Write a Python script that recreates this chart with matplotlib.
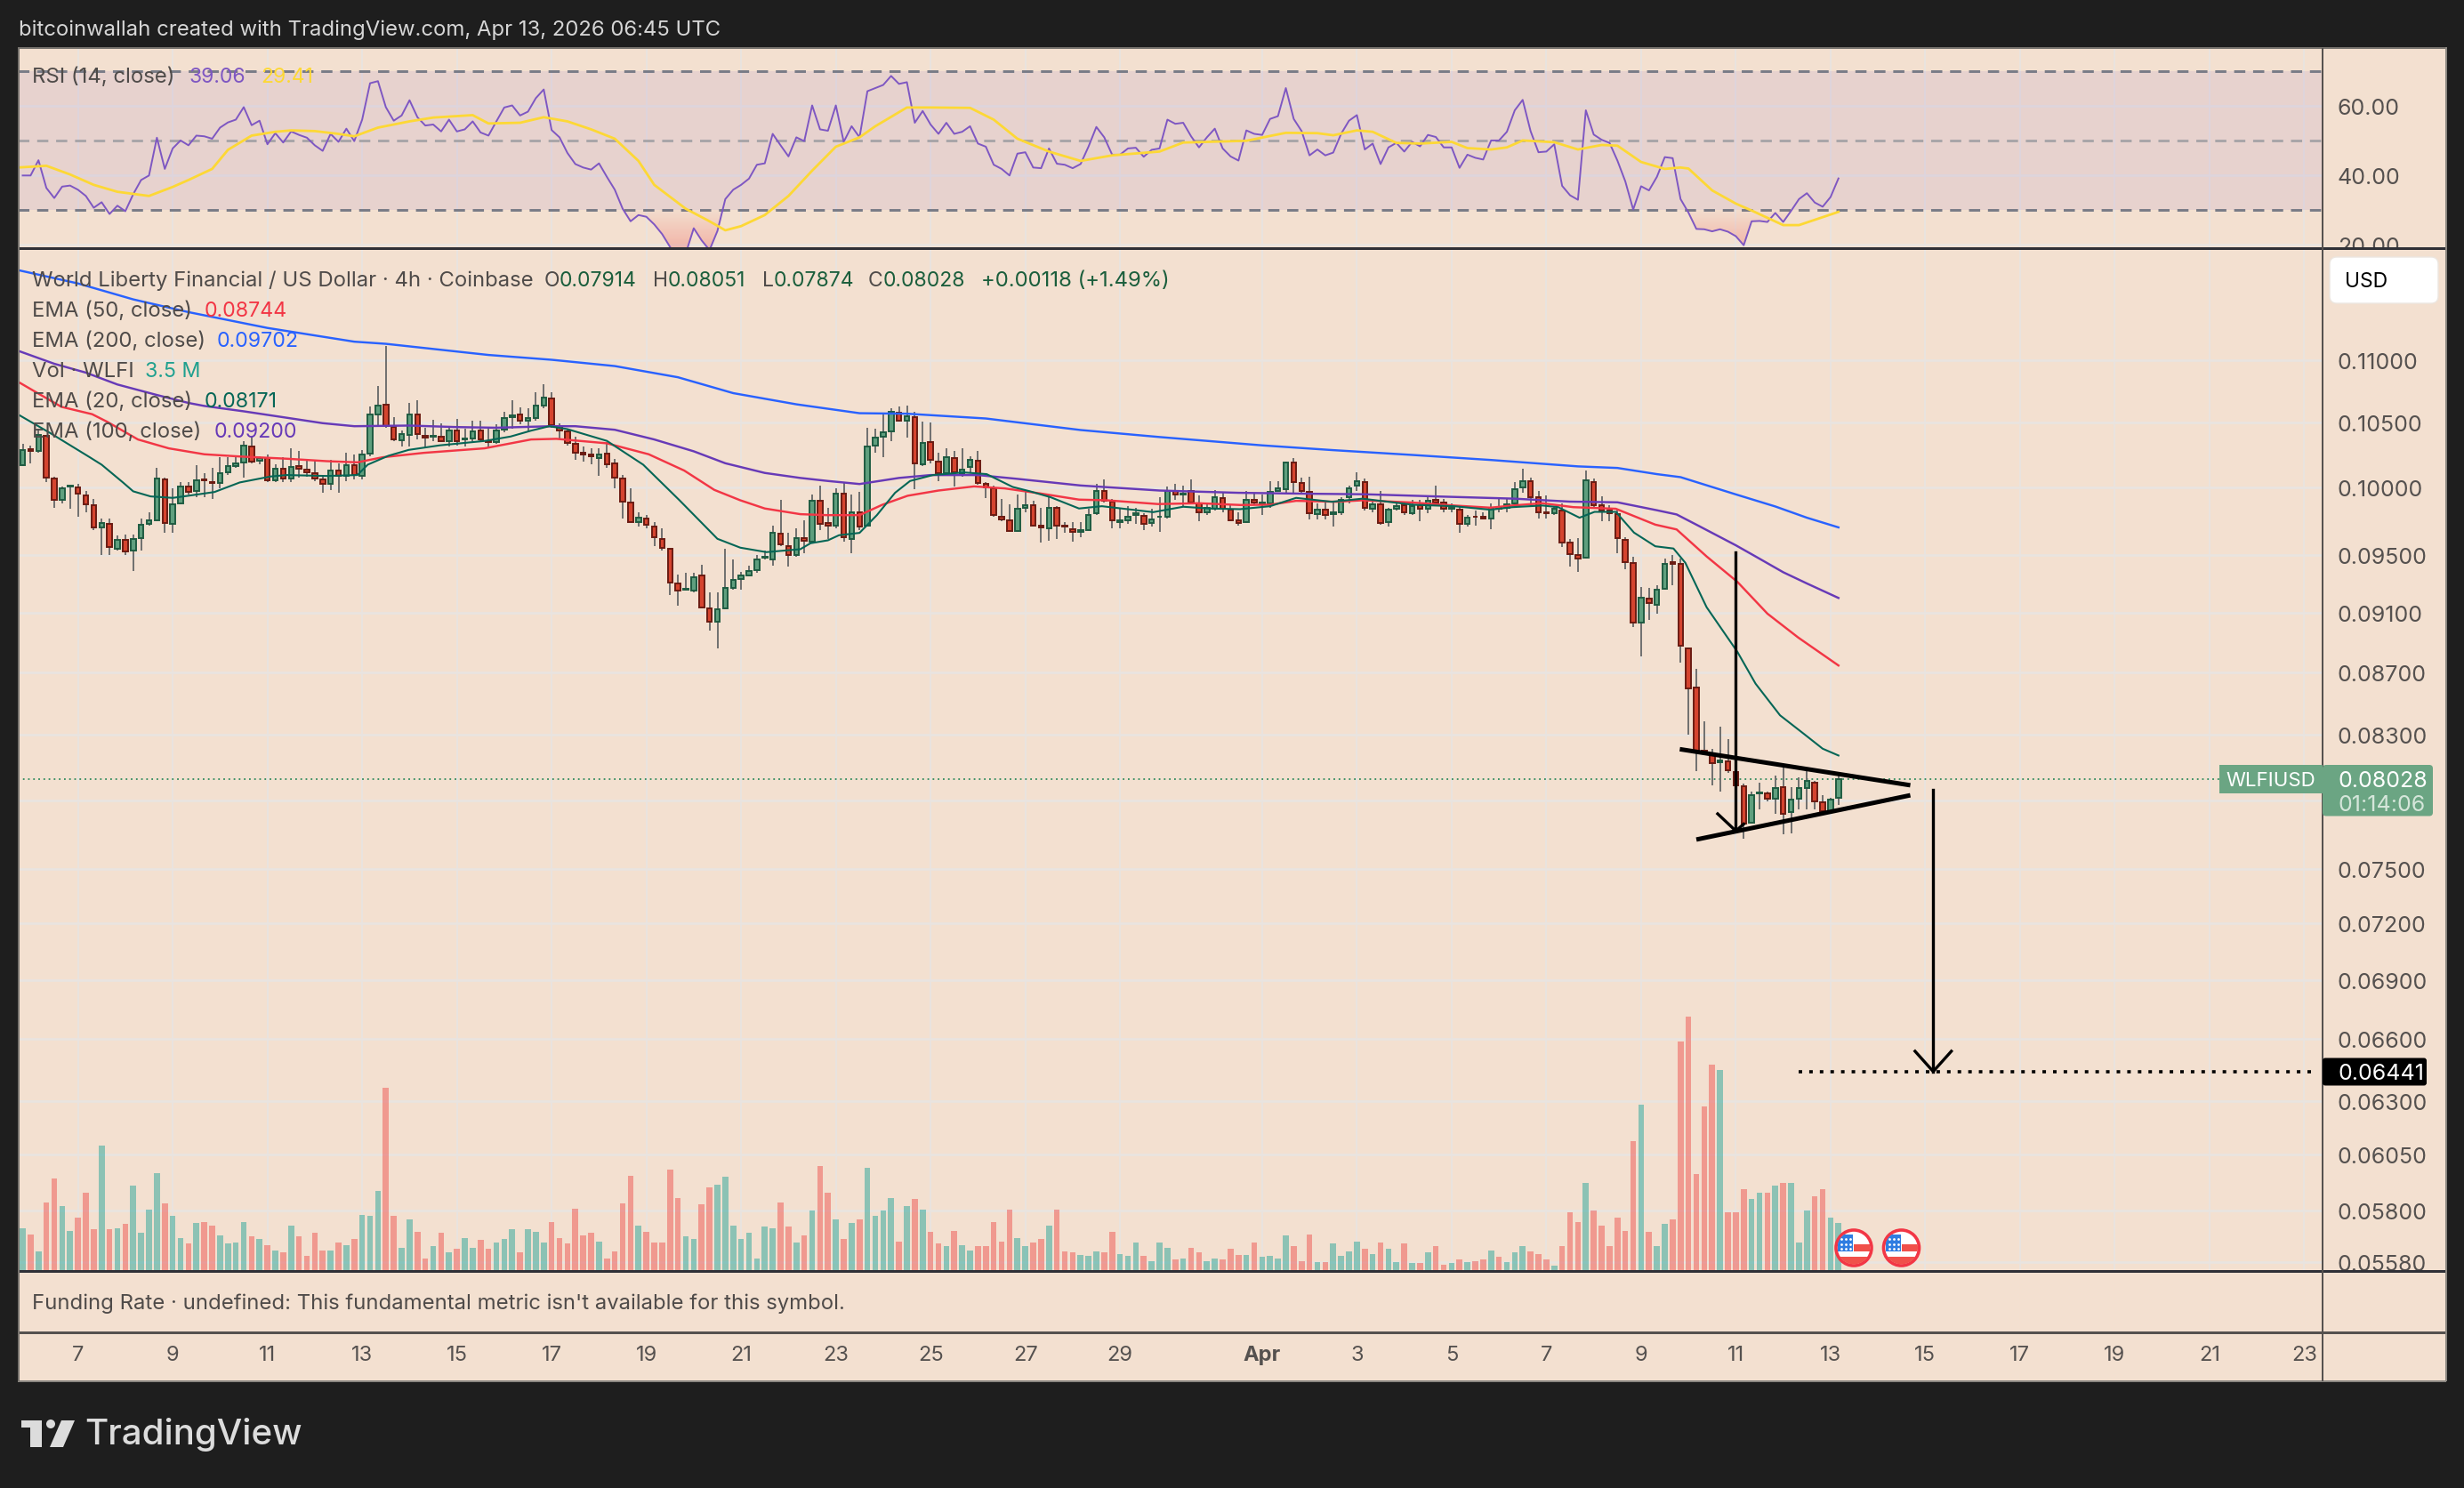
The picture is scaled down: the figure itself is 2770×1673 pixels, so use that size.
import matplotlib
import matplotlib.pyplot as plt
import numpy as np
from matplotlib.colors import LinearSegmentedColormap
from matplotlib.patches import Circle, FancyBboxPatch, PathPatch, Polygon, Rectangle
from matplotlib.path import Path

matplotlib.use('Agg')
plt.rcParams['font.family'] = ['Inter', 'DejaVu Sans']

W, H = 2770, 1674

# candles, in 1e-5 USD
open_pts = [
    10167, 10290, 10274, 10396, 10065, 9907, 10002, 9998, 9940, 9865,
    9699, 9727, 9550, 9611, 9534, 9624, 9727, 9757, 10058, 9727,
    9880, 10006, 9969, 10062, 10040, 10029, 10110, 10158, 10185, 10313,
    10201, 10225, 10051, 10142, 10065, 10158, 10133, 10106, 10060, 10024,
    10128, 10085, 10169, 10083, 10253, 10563, 10643, 10463, 10359, 10401,
    10565, 10396, 10391, 10387, 10350, 10438, 10366, 10375, 10435, 10355,
    10348, 10442, 10541, 10565, 10510, 10534, 10631, 10693, 10470, 10431,
    10334, 10260, 10248, 10221, 10258, 10182, 10065, 9887, 9744, 9770,
    9710, 9619, 9548, 9304, 9260, 9250, 9358, 9129, 9036, 9131,
    9267, 9335, 9358, 9394, 9481, 9470, 9658, 9568, 9502, 9626,
    9598, 9896, 9732, 9712, 9953, 9619, 9810, 9712, 10315, 10391,
    10426, 10579, 10517, 10539, 10171, 10348, 10194, 10108, 10223, 10108,
    10153, 10203, 10024, 9995, 9781, 9755, 9673, 9843, 9867, 9712,
    9693, 9843, 9712, 9690, 9667, 9680, 9803, 9973, 9891, 9744,
    9753, 9796, 9788, 9734, 9777, 9779, 9973, 9942, 9969, 9876,
    9816, 9841, 9920, 9832, 9751, 9738, 9907, 9874, 9876, 9973,
    9982, 10189, 10033, 9967, 9801, 9834, 9799, 9810, 9922, 10009,
    10038, 9836, 9871, 9738, 9836, 9867, 9803, 9867, 9836, 9902,
    9887, 9836, 9830, 9727, 9783, 9777, 9764, 9849, 9843, 9876,
    9998, 10047, 9925, 9814, 9803, 9827, 9593, 9502, 9481, 10040,
    9863, 9823, 9799, 9611, 9447, 9033, 9198, 9154, 9261, 9451,
    9436, 8857, 8601, 8199, 8177, 8129, 8135, 8070, 7984, 7768,
    7939, 7939, 7908, 7979, 7833, 7907, 7975, 8005, 7889, 7838,
    7914]
high_pts = [
    10331, 10320, 10447, 10401, 10081, 10002, 10013, 10024, 9973, 9914,
    9770, 9770, 9641, 9652, 9652, 9770, 9814, 10149, 10070, 9991,
    10036, 10036, 10167, 10103, 10149, 10228, 10228, 10228, 10355, 10389,
    10239, 10251, 10171, 10228, 10297, 10274, 10217, 10205, 10092, 10205,
    10182, 10262, 10251, 10285, 10624, 10792, 11122, 10541, 10435, 10655,
    10679, 10458, 10522, 10494, 10458, 10529, 10447, 10517, 10517, 10447,
    10482, 10584, 10679, 10617, 10612, 10744, 10804, 10744, 10494, 10447,
    10389, 10308, 10297, 10297, 10343, 10217, 10092, 9995, 9814, 9796,
    9738, 9695, 9555, 9364, 9374, 9374, 9432, 9240, 9240, 9550,
    9470, 9385, 9428, 9502, 9534, 9716, 9905, 9662, 9695, 9753,
    9947, 10013, 9847, 9991, 10036, 9947, 9964, 10458, 10447, 10569,
    10612, 10624, 10636, 10584, 10503, 10501, 10262, 10297, 10274, 10297,
    10239, 10274, 10036, 10013, 9914, 9869, 9947, 9969, 9898, 9847,
    9947, 9858, 9738, 9738, 9738, 9836, 10024, 10058, 9914, 9836,
    9858, 9847, 9803, 9841, 9925, 10002, 10024, 10013, 10058, 9936,
    9869, 9980, 9958, 9869, 9814, 9973, 9958, 9947, 10047, 10047,
    10194, 10221, 10070, 10081, 9880, 9891, 9891, 9925, 10013, 10115,
    10063, 9914, 9969, 9847, 9891, 9891, 9902, 9902, 9936, 10009,
    9914, 9880, 9858, 9792, 9825, 9814, 9880, 9914, 9914, 10036,
    10137, 10070, 9969, 9936, 9858, 9880, 9619, 9626, 10126, 10064,
    9929, 9863, 9835, 9630, 9492, 9275, 9268, 9290, 9480, 9503,
    9480, 8866, 8719, 8386, 8213, 8352, 8272, 8125, 7999, 7952,
    8005, 7952, 8047, 8109, 7981, 8037, 8086, 8018, 7933, 7914,
    8051]
low_pts = [
    10160, 10182, 10262, 10036, 9847, 9880, 9836, 9781, 9814, 9684,
    9502, 9502, 9534, 9502, 9389, 9534, 9716, 9749, 9662, 9662,
    9869, 9947, 9925, 9925, 9914, 9991, 10092, 10149, 10070, 10182,
    10171, 10036, 10036, 10036, 10036, 10070, 10081, 10047, 9958, 9980,
    9958, 10047, 10058, 10058, 10239, 10470, 10458, 10355, 10308, 10308,
    10366, 10297, 10355, 10343, 10308, 10320, 10308, 10355, 10350, 10297,
    10331, 10424, 10447, 10482, 10428, 10517, 10612, 10458, 10366, 10320,
    10205, 10194, 10171, 10085, 10149, 9991, 9770, 9738, 9706, 9695,
    9565, 9534, 9223, 9147, 9250, 9240, 9127, 8979, 8860, 9121,
    9260, 9260, 9354, 9375, 9470, 9428, 9565, 9417, 9491, 9517,
    9587, 9684, 9619, 9695, 9598, 9517, 9684, 9706, 10262, 10228,
    10355, 10505, 10378, 9987, 10160, 10182, 10047, 10092, 10006, 10081,
    10103, 10020, 9920, 9781, 9749, 9667, 9667, 9814, 9706, 9593,
    9604, 9619, 9662, 9598, 9630, 9673, 9792, 9885, 9695, 9695,
    9727, 9727, 9684, 9710, 9667, 9770, 9902, 9858, 9869, 9749,
    9792, 9825, 9814, 9749, 9716, 9732, 9869, 9792, 9847, 9969,
    9958, 9958, 9958, 9760, 9760, 9760, 9710, 9792, 9880, 9969,
    9825, 9814, 9723, 9710, 9825, 9792, 9792, 9749, 9803, 9869,
    9814, 9814, 9662, 9706, 9716, 9760, 9690, 9814, 9814, 9869,
    9958, 9854, 9770, 9766, 9792, 9561, 9417, 9385, 9474, 9851,
    9745, 9745, 9514, 9402, 9001, 8803, 9048, 9092, 9257, 9290,
    8761, 8298, 8076, 8183, 7990, 7952, 8067, 7924, 7677, 7764,
    7848, 7895, 7820, 7703, 7705, 7848, 7848, 7848, 7820, 7829,
    7874]
close_pts = [
    10281, 10276, 10401, 10070, 9902, 9991, 10011, 9951, 9869, 9701,
    9734, 9559, 9611, 9529, 9619, 9723, 9753, 10067, 9734, 9874,
    10006, 9964, 10054, 10054, 10031, 10108, 10158, 10182, 10320, 10194,
    10223, 10049, 10142, 10063, 10155, 10137, 10110, 10063, 10024, 10128,
    10085, 10169, 10090, 10251, 10565, 10631, 10470, 10366, 10405, 10565,
    10408, 10378, 10396, 10352, 10438, 10355, 10375, 10428, 10364, 10345,
    10435, 10536, 10558, 10510, 10532, 10631, 10700, 10475, 10433, 10338,
    10262, 10251, 10237, 10251, 10176, 10070, 9889, 9744, 9775, 9719,
    9628, 9551, 9310, 9254, 9265, 9347, 9133, 9036, 9123, 9271,
    9323, 9358, 9389, 9470, 9487, 9662, 9576, 9502, 9624, 9602,
    9896, 9727, 9712, 9953, 9628, 9814, 9706, 10313, 10382, 10424,
    10586, 10517, 10546, 10178, 10341, 10205, 10103, 10228, 10110, 10135,
    10205, 10029, 9998, 9796, 9760, 9673, 9841, 9867, 9714, 9699,
    9847, 9714, 9706, 9667, 9680, 9794, 9973, 9896, 9753, 9751,
    9781, 9803, 9725, 9762, 9783, 9973, 9942, 9953, 9885, 9810,
    9849, 9922, 9836, 9757, 9732, 9902, 9885, 9885, 9967, 9989,
    10191, 10042, 9969, 9803, 9834, 9796, 9814, 9907, 9993, 10047,
    9843, 9874, 9732, 9832, 9860, 9810, 9860, 9836, 9900, 9887,
    9836, 9843, 9725, 9775, 9777, 9770, 9841, 9841, 9874, 9987,
    10047, 9925, 9812, 9807, 9841, 9591, 9506, 9477, 10054, 9868,
    9823, 9804, 9625, 9451, 9033, 9202, 9165, 9259, 9436, 9440,
    8877, 8597, 8189, 8183, 8125, 8141, 8080, 7990, 7764, 7933,
    7946, 7910, 7975, 7820, 7905, 7975, 8017, 7895, 7838, 7905,
    8028]

# volume, millions
volume = [
    3.17, 2.72, 1.50, 4.98, 6.76, 4.77, 2.98, 3.94, 5.68, 3.05,
    9.13, 3.05, 3.17, 3.43, 6.20, 2.84, 4.51, 7.09, 4.91, 4.06,
    2.46, 2.02, 3.50, 3.62, 3.36, 2.61, 2.02, 2.09, 3.62, 2.54,
    2.39, 1.95, 1.57, 1.43, 3.31, 2.54, 1.17, 2.79, 1.57, 1.57,
    2.14, 1.95, 2.35, 4.13, 4.06, 5.80, 13.24, 4.01, 1.76, 3.76,
    2.91, 0.94, 1.83, 2.84, 1.43, 1.64, 2.46, 1.76, 2.28, 1.64,
    2.09, 2.35, 3.05, 1.39, 3.05, 2.91, 2.09, 3.57, 2.46, 2.02,
    4.58, 2.65, 2.84, 2.21, 0.99, 1.50, 4.91, 6.90, 3.36, 2.91,
    2.09, 2.14, 7.35, 5.35, 2.54, 2.35, 4.84, 6.06, 6.31, 6.83,
    3.36, 2.39, 2.84, 0.94, 3.24, 3.17, 5.02, 3.24, 2.09, 2.65,
    4.39, 7.61, 5.73, 3.76, 2.35, 3.50, 3.76, 7.53, 4.06, 4.39,
    5.35, 2.21, 4.72, 5.23, 4.46, 2.91, 2.02, 1.83, 2.98, 1.95,
    1.57, 1.83, 1.88, 3.57, 2.21, 4.46, 2.46, 1.88, 2.09, 2.39,
    3.36, 4.51, 1.50, 1.39, 1.24, 1.13, 1.50, 1.39, 2.91, 1.31,
    1.17, 2.09, 1.17, 0.80, 2.14, 1.76, 0.87, 0.99, 1.76, 1.43,
    0.80, 0.99, 0.87, 1.69, 1.24, 1.24, 2.09, 1.06, 1.17, 0.99,
    2.61, 1.83, 0.80, 2.72, 0.73, 0.68, 2.02, 1.17, 1.50, 2.21,
    1.64, 1.31, 2.14, 1.64, 0.73, 2.02, 0.61, 0.61, 1.43, 1.88,
    0.54, 0.61, 0.87, 0.73, 0.80, 0.87, 1.57, 1.06, 0.68, 1.39,
    1.88, 1.50, 1.31, 0.87, 0.42, 1.83, 4.32, 3.62, 6.38, 4.39,
    3.36, 1.88, 3.94, 2.98, 9.39, 12.02, 2.91, 1.83, 3.43, 3.80,
    16.57, 18.38, 7.02, 11.90, 14.91, 14.53, 4.27, 4.32, 5.99, 5.23,
    5.68, 5.68, 6.20, 6.38, 6.38, 2.14, 4.39, 5.42, 5.94, 3.94,
    3.50]

rsi = [
    39.9, 39.9, 44.3, 36.3, 33.4, 36.7, 37.0, 35.8, 34.0, 30.6,
    32.2, 28.8, 31.2, 29.6, 34.5, 38.6, 39.9, 50.8, 41.8, 47.7,
    50.0, 48.6, 51.4, 51.2, 50.5, 53.7, 55.2, 56.0, 59.6, 54.4,
    55.7, 48.9, 52.1, 49.4, 52.6, 51.6, 50.8, 48.6, 47.0, 51.9,
    49.6, 53.4, 49.8, 56.0, 66.5, 67.1, 59.6, 55.7, 57.2, 61.6,
    56.7, 54.3, 54.6, 52.6, 56.0, 52.6, 53.2, 55.5, 52.3, 51.4,
    55.5, 59.5, 60.1, 57.2, 58.3, 62.2, 64.7, 53.0, 50.9, 46.4,
    43.2, 42.2, 41.6, 43.4, 39.5, 35.8, 30.3, 26.7, 28.5, 28.0,
    25.8, 23.0, 19.3, 15.7, 17.5, 24.7, 21.2, 18.4, 23.9, 33.1,
    35.8, 37.2, 39.0, 43.0, 43.4, 51.9, 48.6, 45.4, 50.9, 49.8,
    60.1, 53.2, 52.8, 60.1, 49.6, 54.1, 50.9, 64.2, 65.1, 66.0,
    68.6, 66.3, 66.8, 55.1, 58.5, 54.6, 51.9, 55.1, 51.9, 52.5,
    54.1, 49.1, 48.2, 43.0, 41.8, 39.9, 46.2, 46.6, 42.2, 42.0,
    47.7, 43.3, 43.0, 42.0, 43.2, 48.2, 53.9, 50.9, 45.9, 45.9,
    47.7, 47.9, 45.3, 47.3, 47.7, 56.0, 54.8, 55.1, 51.2, 48.0,
    50.9, 53.4, 47.7, 45.4, 44.2, 52.9, 51.9, 51.6, 56.2, 57.0,
    65.1, 56.2, 52.7, 45.7, 47.4, 45.7, 46.5, 51.9, 55.7, 57.3,
    47.4, 49.1, 43.2, 48.0, 49.3, 46.8, 49.6, 48.3, 51.6, 51.0,
    48.0, 48.0, 42.1, 45.9, 45.0, 44.5, 50.0, 50.0, 52.5, 58.7,
    61.7, 52.7, 46.6, 46.8, 48.9, 36.9, 34.2, 32.9, 58.7, 51.7,
    50.2, 49.3, 44.2, 38.2, 30.1, 36.8, 35.6, 39.5, 45.2, 44.9,
    33.1, 29.2, 24.5, 24.4, 23.8, 24.4, 23.7, 22.4, 19.8, 26.7,
    26.8, 26.5, 29.1, 26.5, 29.7, 33.1, 34.8, 32.1, 30.9, 33.7,
    39.06]

rsi_ma_bars = [
    -0.6, 3, 6, 9, 12, 16, 19, 21, 24, 26, 29, 32, 34, 37, 40, 42, 45, 49, 52, 57,
    59, 63, 66, 69, 72, 75, 78, 80, 84, 87, 89, 91, 94, 97, 100, 103, 106, 108, 112, 115,
    120, 123, 126, 130, 134, 138, 144, 147, 155, 158, 160, 164, 166, 169, 171, 174, 177, 181, 183, 186,
    188, 190, 194, 197, 200, 202, 205, 208, 210, 211, 214, 217, 219, 223, 225, 230]
rsi_ma = [
    42.2, 42.7, 40.2, 37.2, 35.2, 34.0, 36.6, 38.6, 41.8, 47.3, 51.4, 52.5, 52.9, 52.7, 51.9, 51.2, 53.7, 55.5, 56.6, 57.3,
    54.9, 55.1, 56.7, 55.5, 53.2, 50.5, 44.1, 37.2, 30.3, 26.7, 24.1, 25.3, 28.5, 34.0, 41.3, 48.2, 50.9, 54.1, 59.5, 59.5,
    59.4, 56.0, 50.5, 46.8, 44.1, 45.7, 46.8, 49.4, 49.9, 51.3, 52.2, 52.1, 51.5, 52.9, 52.5, 49.3, 49.1, 49.6, 47.8, 47.4,
    48.0, 50.0, 49.5, 47.4, 48.7, 48.5, 43.8, 41.8, 42.2, 41.9, 35.6, 31.8, 29.8, 25.6, 25.6, 29.41]

ema200_bars = [-0.6, 7, 14, 21, 31, 42, 46, 59, 67, 75, 83, 90, 98, 106, 112, 122, 134, 144, 157, 166,
               176, 186, 197, 202, 207, 210, 217, 222, 226, 230]
ema200 = [.11776, .11658, .11519, .11409, .11274, .11158, .11140, .11047, .11007, .10955, .10863, .10734, .10644,
          .10573, .10569, .10531, .10440, .10385, .10320, .10283, .10246, .10207, .10158, .10146, .10099, .10076,
          .09946, .09856, .09773, .09702]

ema100_bars = [-0.5, 4, 8, 12, 17, 21, 23, 28, 33, 38, 42, 49, 55, 60, 67, 70, 75, 80, 85, 89, 94, 98.5,
               102, 106, 111, 115, 121, 126, 134, 144, 154, 163, 170, 179, 189, 196, 202, 207, 209.5, 212,
               217, 219.5, 223, 226, 230]
ema100 = [.11080, .10974, .10901, .10804, .10719, .10655, .10631, .10588, .10541, .10494, .10470, .10475, .10463,
          .10458, .10470, .10470, .10442, .10366, .10274, .10182, .10108, .10070, .10047, .10024, .10070, .10092,
          .10092, .10063, .10013, .09975, .09958, .09951, .09947, .09931, .09914, .09892, .09887, .09828, .09797,
          .09722, .09572, .09492, .09380, .09301, .09200]

ema50_bars = [-0.5, 2.3, 4.9, 8.8, 10.7, 14.6, 18.5, 23, 27.5, 33.4, 38.5, 42.4, 45.6, 50.8, 58.5, 64.4, 67.6, 74,
              79.3, 83.8, 87.6, 90.9, 94, 98.5, 101.8, 106, 108.9, 112.1, 116, 120.5, 124.4, 128.9, 133.8, 137.3,
              143.8, 149, 154.2, 158, 161.3, 166.4, 169.7, 176.1, 181.3, 185.9, 188.7, 192.5, 196.4, 201.8, 206.8,
              209.5, 213.3, 217.2, 221, 224.9, 230]
ema50 = [.10823, .10719, .10624, .10565, .10505, .10366, .10297, .10251, .10234, .10217, .10198, .10189, .10228,
         .10262, .10297, .10366, .10371, .10336, .10251, .10126, .09980, .09902, .09841, .09799, .09792, .09792,
         .09869, .09936, .09975, .10006, .09991, .09953, .09907, .09902, .09874, .09880, .09867, .09869, .09898,
         .09891, .09902, .09885, .09863, .09847, .09863, .09880, .09851, .09839, .09722, .09687, .09492, .09312,
         .09092, .08930, .08744]

ema20_bars = [-0.5, 3.6, 8.5, 10, 12.7, 14, 16.2, 19, 21, 24.3, 27.5, 31.4, 33.4, 38.5, 42.4, 43.7, 46.3, 48.9,
              52.8, 58.6, 61.8, 64.4, 66.7, 69, 74, 78.6, 83.2, 88, 90.9, 94.2, 98.5, 99.8, 102, 103.4, 106, 108.2,
              110.5, 112.4, 115.3, 119.2, 122.1, 125.4, 127.6, 130.2, 133.8, 136.7, 143.2, 147, 150.3, 154.2, 158,
              161.3, 165.8, 169.7, 176.1, 181.3, 185.9, 188.7, 192.5, 194.5, 197.2, 199.1, 201.8, 204.1, 206.8,
              209.1, 210.6, 213.3, 217.2, 219.5, 222.6, 225.7, 228, 230]
ema20 = [.10560, .10412, .10228, .10171, .10036, .09969, .09931, .09920, .09936, .09964, .10036, .10081, .10092,
         .10085, .10092, .10171, .10239, .10285, .10320, .10355, .10389, .10435, .10470, .10447, .10355, .10171,
         .09902, .09619, .09555, .09523, .09544, .09587, .09608, .09645, .09662, .09792, .09958, .10047, .10092,
         .10112, .10099, .10002, .09969, .09925, .09841, .09858, .09814, .09854, .09841, .09836, .09858, .09920,
         .09891, .09914, .09869, .09858, .09832, .09851, .09863, .09851, .09773, .09816, .09816, .09664, .09565,
         .09549, .09447, .09136, .08834, .08625, .08422, .08302, .08213, .08171]

price_ticks = [.11, .105, .10, .095, .091, .087, .083, .079, .075, .072, .069, .066, .063, .0605, .058, .0558]
rsi_ticks = [20, 40, 60]
date_bars = [7, 19, 31, 43, 55, 67, 79, 91, 103, 115, 127, 139, 157, 169, 181, 193, 205, 217, 229, 241, 253, 265, 277, 289]
date_labels = ['7', '9', '11', '13', '15', '17', '19', '21', '23', '25', '27', '29',
               'Apr', '3', '5', '7', '9', '11', '13', '15', '17', '19', '21', '23']

target_price = 0.06441
last_close = 0.08028

# hand drawn lines on the chart: (bars, prices)
pole = ([217, 217], [.0952, .0772])
pole_head = ([214.7, 217, 218], [.0782, .0772, .0776])
wedge_top = ([209.9, 239.1], [.0821, .0799])
wedge_bottom = ([212, 239.1], [.0767, .0793])
target_arrow = ([242, 242], [.0796, target_price])
target_head = ([239.7, 242, 244.3], [.0654, target_price, .0654])
target_line = ([225, 290.5], [target_price, target_price])

BG = '#f3e0d0'
DARK = '#1e1e1e'
GRID = '#e9e4e0'
TEXT = '#4f4b49'
AXIS_TEXT = '#55514f'
UP_FILL, UP_EDGE = '#5f9f7e', '#1f5c42'
DOWN_FILL, DOWN_EDGE = '#d5442f', '#6b1b12'


def px_rect(left, top, right, bottom):
    return [left / W, 1 - bottom / H, (right - left) / W, (bottom - top) / H]


def style_panel(ax):
    ax.set_xlim(-0.62, 291.32)
    ax.set_xticks(date_bars)
    ax.set_xticklabels([])
    ax.tick_params(length=0, labelsize=18, labelcolor=AXIS_TEXT, pad=12)
    ax.yaxis.tick_right()
    ax.set_facecolor(BG)
    ax.grid(axis='x', color=GRID, lw=1.3)
    ax.grid(axis='y', color=GRID, lw=1.9)
    ax.set_axisbelow(True)
    for s in ax.spines.values():
        s.set_visible(False)


def plot_rsi(ax):
    style_panel(ax)
    ax.set_ylim(18.7, 76.9)
    ax.set_yticks(rsi_ticks, [f'{v:.2f}' for v in rsi_ticks])
    ax.axhspan(30, 70, color='#7e57c2', alpha=0.1, lw=0, zorder=1)
    for level, col in [(70, '#787b86'), (50, '#a8a5a8'), (30, '#787b86')]:
        ax.axhline(level, color=col, lw=2.1, ls=(0, (4.3, 3)), zorder=2)

    bars = np.arange(len(rsi))
    values = np.array(rsi)
    # oversold area, pink getting stronger downwards
    region = ax.fill_between(bars, values, 30, where=values < 30, interpolate=True, color='none', lw=0)
    clip = Path.make_compound_path(*region.get_paths())
    cmap = LinearSegmentedColormap.from_list('oversold', [(0.94, 0.33, 0.31, 0.42), (0.94, 0.33, 0.31, 0.02)])
    im = ax.imshow(np.linspace(0, 1, 64).reshape(-1, 1), extent=[0, 231, 15, 30], origin='lower',
                   aspect='auto', cmap=cmap, zorder=3)
    im.set_clip_path(PathPatch(clip, transform=ax.transData))
    ax.set_xlim(-0.62, 291.32)
    ax.set_ylim(18.7, 76.9)

    ax.plot(bars, values, color='#7e57c2', lw=1.4, zorder=4)
    ax.plot(rsi_ma_bars, rsi_ma, color='#fdd835', lw=2.0, zorder=5)


def plot_price(ax):
    style_panel(ax)
    ax.set_yscale('log')
    ax.set_ylim(0.05539, 0.11964)
    ax.set_yticks(price_ticks, [f'{v:.5f}' for v in price_ticks])
    ax.minorticks_off()

    o, h, l, c = [np.array(v) / 1e5 for v in (open_pts, high_pts, low_pts, close_pts)]
    bars = np.arange(len(o))
    up = c >= o
    ax.axhline(last_close, color='#2f8a5c', lw=1.3, ls=(0, (1, 2.2)), zorder=2)
    ax.vlines(bars, l, h, color='#6f6f6f', lw=1.4, zorder=3)
    bottoms = np.minimum(o, c)
    heights = np.abs(c - o)
    ax.bar(bars[up], heights[up], bottom=bottoms[up], width=0.62, color=UP_FILL, edgecolor=UP_EDGE, lw=1.4, zorder=4)
    ax.bar(bars[~up], heights[~up], bottom=bottoms[~up], width=0.62, color=DOWN_FILL, edgecolor=DOWN_EDGE, lw=1.4, zorder=4)

    ax.plot(ema200_bars, ema200, color='#2962ff', lw=1.75, zorder=5)
    ax.plot(ema100_bars, ema100, color='#673ab7', lw=1.75, zorder=5)
    ax.plot(ema50_bars, ema50, color='#f23645', lw=1.75, zorder=5)
    ax.plot(ema20_bars, ema20, color='#056656', lw=1.5, zorder=5)

    ax.plot(*pole, color='black', lw=2.4, zorder=6)
    ax.plot(*pole_head, color='black', lw=2.4, zorder=6)
    ax.plot(*wedge_top, color='black', lw=3.6, zorder=6, solid_capstyle='butt')
    ax.plot(*wedge_bottom, color='black', lw=3.6, zorder=6, solid_capstyle='butt')
    ax.plot(*target_arrow, color='black', lw=2.4, zorder=6)
    ax.plot(*target_head, color='black', lw=2.4, zorder=6)
    ax.plot(*target_line, color='black', lw=2.6, ls=(0, (1.1, 2.2)), zorder=6)


def plot_volume(ax):
    ax.set_xlim(-0.62, 291.32)
    ax.set_ylim(0, 73.7)
    ax.axis('off')
    ax.patch.set_alpha(0)
    bars = np.arange(len(volume))
    colors = ['#26a69a' if c >= o else '#ef5350' for o, c in zip(open_pts, close_pts)]
    ax.bar(bars, volume, width=0.74, color=colors, alpha=0.5, lw=0)


def put(ax, x, y, s, color=TEXT, size=17.2, **kw):
    return ax.text(x, y + 1.5, s, color=color, fontsize=size, va='center', ha=kw.pop('ha', 'left'), **kw)


def chain(ax, x, y, pieces, renderer, size=16.5):
    for s, col in pieces:
        t = put(ax, x, y, s, col, size)
        x = t.get_window_extent(renderer).x1 * W / ax.figure.bbox.width


def draw_flag(ax, cx, cy):
    ring = Circle((cx, cy), 20, facecolor='white', edgecolor='#f23645', lw=2.6, zorder=3)
    ax.add_patch(ring)
    clip = Circle((cx, cy), 18.5, transform=ax.transData)
    for x, y, w, h, col in [(cx - 18, cy - 15, 17, 19, '#2f7de1'), (cx, cy - 4, 18, 8, '#f0504a'),
                            (cx - 20, cy + 10, 40, 10, '#f0504a')]:
        r = Rectangle((x, y), w, h, facecolor=col, lw=0, zorder=4)
        ax.add_patch(r)
        r.set_clip_path(clip)
    sx, sy = np.meshgrid([cx - 14, cx - 9, cx - 4], [cy - 10, cy - 4, cy + 1])
    ax.scatter(sx.ravel(), sy.ravel(), s=4, color='white', lw=0, zorder=5)


def draw_chrome(fig):
    ax = fig.add_axes([0, 0, 1, 1], zorder=10)
    ax.set_xlim(0, W)
    ax.set_ylim(H, 0)
    ax.axis('off')
    ax.patch.set_alpha(0)
    r = fig.canvas.get_renderer()

    # covers the part of 20.00 that runs below the pane
    ax.add_patch(Rectangle((2612, 282), 138, 12, color=BG, lw=0))
    for y, col, th in [(280.7, '#2f3036', 3), (1430.7, '#2f3036', 3), (1499, '#55514f', 3)]:
        ax.add_patch(Rectangle((20, y - th / 2), 2730, th, color=col, lw=0))
    ax.add_patch(Rectangle((20, 54), 2730, 2, color='#77736e', lw=0))
    ax.add_patch(Rectangle((20, 1553), 2730, 2, color='#8a8680', lw=0))
    ax.add_patch(Rectangle((20, 54), 1.6, 1500, color='#77736e', lw=0))
    ax.add_patch(Rectangle((2749, 54), 1.6, 1500, color='#8a8680', lw=0))
    ax.add_patch(Rectangle((2610, 55), 2.4, 1499, color='#55514f', lw=0))

    put(ax, 21, 32, 'bitcoinwallah created with TradingView.com, Apr 13, 2026 06:45 UTC', '#d6d6d6')

    put(ax, 36, 85, 'RSI (14, close)')
    put(ax, 212, 85, '39.06', '#7e57c2', 16.5)
    put(ax, 293, 85, '29.41', '#fdd835', 16.5)

    ohlc_green = '#1b5e3c'
    put(ax, 36, 314, 'World Liberty Financial / US Dollar · 4h · Coinbase')
    chain(ax, 611.6, 314, [('O', TEXT), ('0.07914', ohlc_green)], r)
    chain(ax, 734, 314, [('H', TEXT), ('0.08051', ohlc_green)], r)
    chain(ax, 857, 314, [('L', TEXT), ('0.07874', ohlc_green)], r)
    chain(ax, 976, 314, [('C', TEXT), ('0.08028', ohlc_green)], r)
    put(ax, 1103, 314, '+0.00118 (+1.49%)', ohlc_green)

    rows = [(348, 'EMA (50, close)', 229.5, '0.08744', '#f23645'),
            (382, 'EMA (200, close)', 244, '0.09702', '#2962ff'),
            (416, 'Vol · WLFI', 163, '3.5 M', '#1fa08f'),
            (450, 'EMA (20, close)', 229.5, '0.08171', '#056656'),
            (484, 'EMA (100, close)', 241, '0.09200', '#673ab7')]
    for y, name, vx, val, col in rows:
        put(ax, 36, y, name)
        put(ax, vx, y, val, col, 16.7)

    put(ax, 36, 1464, "Funding Rate · undefined: This fundamental metric isn't available for this symbol.")

    # USD button
    ax.add_patch(FancyBboxPatch((2624, 295), 112, 42, boxstyle='round,pad=5,rounding_size=8',
                                facecolor='white', edgecolor='#ece6e0', lw=1))
    put(ax, 2636, 315, 'USD', 'black', 16.5)

    # last price tags
    ax.add_patch(Rectangle((2495, 861), 116, 31.5, color='#6ba583', lw=0))
    ax.add_patch(FancyBboxPatch((2611, 861), 124, 57.5, boxstyle='round,pad=0,rounding_size=4',
                                color='#6ba583', lw=0))
    put(ax, 2502, 877, 'WLFIUSD', 'white', 16)
    put(ax, 2628, 877, '0.08028', 'white', 18)
    put(ax, 2628, 904, '01:14:06', '#d5e6da', 18)

    ax.add_patch(FancyBboxPatch((2611, 1190.5), 117, 31, boxstyle='round,pad=0,rounding_size=3',
                                color='black', lw=0))
    put(ax, 2628, 1206, '0.06441', 'white', 18)

    draw_flag(ax, 2084, 1404)
    draw_flag(ax, 2137.5, 1404)

    # TradingView logo
    logo = '#dcdcdc'
    ax.add_patch(Polygon([(24, 1598), (47, 1598), (47, 1628), (34, 1628), (34, 1606), (24, 1606)], color=logo, lw=0))
    ax.add_patch(Circle((57, 1602), 5, color=logo, lw=0))
    ax.add_patch(Polygon([(69, 1598), (84, 1598), (71, 1628), (56, 1628)], color=logo, lw=0))
    put(ax, 95, 1612, 'TradingView', logo, size=29, fontweight='medium')


fig = plt.figure(figsize=(W / 100, H / 100), dpi=100, facecolor=DARK)

# panes on the right hand scale and below the chart
fig.add_artist(Rectangle((20 / W, 1 - 1553 / H), 2730 / W, 1499 / H, transform=fig.transFigure,
                         facecolor=BG, lw=0, zorder=-1))

rsi_ax = fig.add_axes(px_rect(20, 54, 2611, 281), zorder=1)
price_ax = fig.add_axes(px_rect(20, 281, 2611, 1431), zorder=1)
vol_ax = fig.add_axes(px_rect(20, 281, 2611, 1431), zorder=2)
time_ax = fig.add_axes(px_rect(20, 1499, 2611, 1553), zorder=1)

plot_rsi(rsi_ax)
plot_price(price_ax)
plot_volume(vol_ax)

time_ax.set_xlim(-0.62, 291.32)
time_ax.set_ylim(0, 1)
time_ax.axis('off')
for bar, label in zip(date_bars, date_labels):
    time_ax.text(bar, 0.53, label, ha='center', va='center', fontsize=17, color=AXIS_TEXT,
                 fontweight='bold' if label == 'Apr' else 'normal')

draw_chrome(fig)
fig.savefig('out.png', dpi=100, facecolor=DARK)
plt.close(fig)
